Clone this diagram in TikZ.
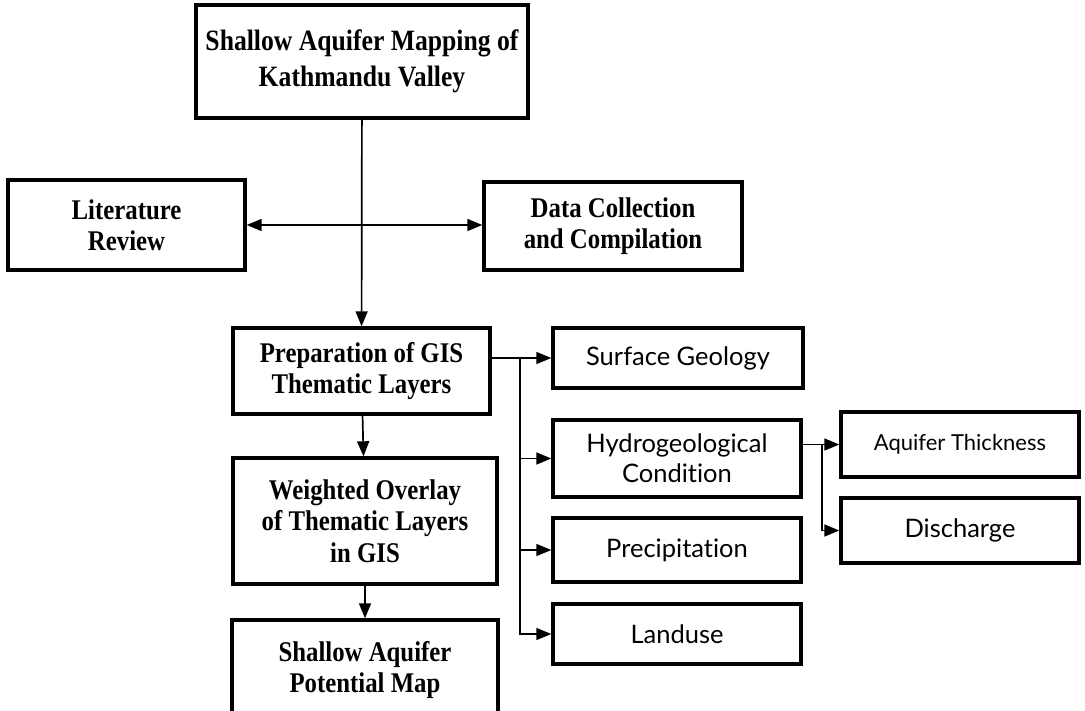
\documentclass[tikz,border=0pt]{standalone}
\usepackage{fontspec}
\setmainfont{Liberation Serif}[FakeStretch=0.87]
\newfontfamily\layerfont{Lato}[Ligatures=NoCommon]
\usetikzlibrary{arrows.meta}

\newlength{\du}
\setlength{\du}{1pt}

\tikzset{
  stagebox/.style={draw, line width=3.4\du, align=center, inner sep=0pt,
    font=\fontsize{28.5}{31.5}\selectfont\bfseries},
  layerbox/.style={draw, line width=3.4\du, align=center, inner sep=0pt,
    font=\layerfont\fontsize{25.5}{30}\selectfont},
  flow/.style={line width=1.7\du, -{Triangle[length=15pt,width=12pt]}},
  bothflow/.style={line width=1.7\du, {Triangle[length=15pt,width=12pt]}-{Triangle[length=15pt,width=12pt]}},
}

\begin{document}
\begin{tikzpicture}
\pgftransformyscale{-1.000000}
\useasboundingbox (0,0) rectangle (1085\du,710\du);
\clip (0,0) rectangle (1085\du,710\du);

% main column
\node[stagebox, minimum width=332\du, minimum height=113\du, font=\fontsize{29.5}{36}\selectfont\bfseries] (title) at (362\du,61.5\du) {Shallow Aquifer Mapping of\\Kathmandu Valley};
\node[stagebox, minimum width=237\du, minimum height=90\du] (review) at (126.5\du,225\du) {Literature\\Review};
\node[stagebox, minimum width=258\du, minimum height=88\du] (collect) at (613\du,226\du) {Data Collection\\and Compilation};
\node[stagebox, minimum width=257\du, minimum height=86\du] (prep) at (361.5\du,371\du) {Preparation of GIS\\Thematic Layers};
\node[stagebox, minimum width=264\du, minimum height=126\du] (overlay) at (365\du,521\du) {Weighted Overlay\\of Thematic Layers\\in GIS};
\node[stagebox, minimum width=266\du, minimum height=100\du] (potmap) at (365\du,670\du) {Shallow Aquifer\\Potential Map};

% thematic layers
\node[layerbox, minimum width=250\du, minimum height=60\du] (geol) at (678\du,358\du) {Surface Geology};
\node[layerbox, minimum width=248\du, minimum height=77\du] (hydro) at (677\du,458.5\du) {Hydrogeological\\Condition};
\node[layerbox, minimum width=248\du, minimum height=64\du] (precip) at (677\du,550\du) {Precipitation};
\node[layerbox, minimum width=248\du, minimum height=60\du] (landuse) at (677\du,634\du) {Landuse};
\node[layerbox, minimum width=238\du, minimum height=65\du, font=\layerfont\fontsize{22}{28}\selectfont] (thick) at (960\du,444.5\du) {Aquifer Thickness};
\node[layerbox, minimum width=238\du, minimum height=65\du] (disch) at (960\du,530.5\du) {Discharge};

\coordinate (split) at (520\du,358\du);
\coordinate (hsplit) at (822\du,444.5\du);

\draw[flow] (title) -- (prep);
\draw[bothflow] (review.east) -- (review.east -| collect.west);
\draw[flow] (prep) -- (overlay);
\draw[flow] (overlay) -- (potmap);

\draw[flow] (prep.east |- geol.west) -- (geol.west);
\draw[flow] (split) |- (hydro.west);
\draw[flow] (split) |- (precip.west);
\draw[flow] (split) |- (landuse.west);

\draw[flow] (hydro.east |- thick.west) -- (thick.west);
\draw[flow] (hsplit) |- (disch.west);
\end{tikzpicture}
\end{document}
